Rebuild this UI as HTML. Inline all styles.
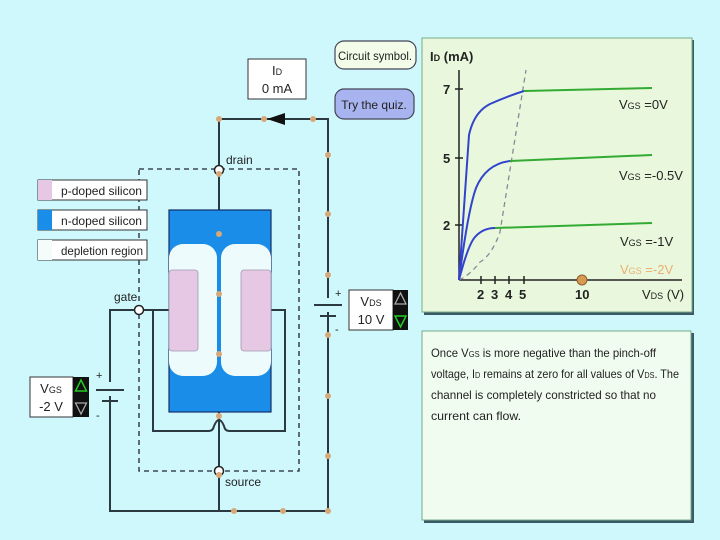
<!DOCTYPE html>
<html><head><style>
body{margin:0;background:#cff8fc;}
svg{display:block;font-family:"Liberation Sans",sans-serif;}
</style></head><body>
<svg width="720" height="540" viewBox="0 0 720 540" xmlns="http://www.w3.org/2000/svg">
<rect width="720" height="540" fill="#cff8fc"/>
<rect x="139" y="169" width="160" height="302" fill="none" stroke="#223" stroke-width="1.3" stroke-dasharray="5,4"/>
<g stroke="#2b3a40" stroke-width="2" fill="none">
<polyline points="219,165 219,119 328,119 328,511 110,511 110,310 134,310"/>
<line x1="219" y1="175" x2="219" y2="210"/>
<line x1="144" y1="310" x2="169" y2="310"/>
<path d="M153,310 L153,431 L209,431 Q213,431 214,426 Q219,414 224,426 Q225,431 229,431 L285,431 L285,310 L271,310"/>
<line x1="219" y1="412" x2="219" y2="466"/>
<line x1="219" y1="476" x2="219" y2="511"/>
</g>
<polygon points="267,119 285,113 285,125" fill="#111"/>
<rect x="318" y="298" width="22" height="14" fill="#cff8fc"/>
<line x1="314" y1="305" x2="342" y2="305" stroke="#2b3a40" stroke-width="2"/>
<line x1="320" y1="316" x2="336" y2="316" stroke="#2b3a40" stroke-width="2"/>
<text x="335" y="297" font-size="11" fill="#222">+</text>
<text x="335" y="333" font-size="11" fill="#222">-</text>
<rect x="100" y="382" width="22" height="14" fill="#cff8fc"/>
<line x1="96" y1="390" x2="124" y2="390" stroke="#2b3a40" stroke-width="2"/>
<line x1="102" y1="401" x2="118" y2="401" stroke="#2b3a40" stroke-width="2"/>
<text x="96" y="379" font-size="11" fill="#222">+</text>
<text x="96" y="419" font-size="11" fill="#222">-</text>
<rect x="169" y="210" width="102" height="202" fill="#1a8de8" stroke="#15306a" stroke-width="1.2"/>
<rect x="169" y="244" width="48" height="132" rx="14" fill="#eefbfc"/>
<rect x="221" y="244" width="50" height="132" rx="14" fill="#eefbfc"/>
<rect x="169" y="270" width="29" height="81" rx="3" fill="#e6c8e4" stroke="#a09ab0" stroke-width="0.8"/>
<rect x="241" y="270" width="30" height="81" rx="3" fill="#e6c8e4" stroke="#a09ab0" stroke-width="0.8"/>
<circle cx="219" cy="170" r="4.5" fill="#fff" stroke="#222" stroke-width="1.5"/>
<circle cx="219" cy="471" r="4.5" fill="#fff" stroke="#222" stroke-width="1.5"/>
<circle cx="139" cy="310" r="4.5" fill="#fff" stroke="#222" stroke-width="1.5"/>
<g fill="#d7a878">
<circle cx="219" cy="119" r="3"/><circle cx="264" cy="119" r="3"/><circle cx="313" cy="119" r="3"/>
<circle cx="328" cy="155" r="3"/><circle cx="328" cy="214" r="3"/><circle cx="328" cy="275" r="3"/><circle cx="328" cy="335" r="3"/><circle cx="328" cy="396" r="3"/><circle cx="328" cy="456" r="3"/><circle cx="328" cy="511" r="3"/>
<circle cx="234" cy="511" r="3"/><circle cx="283" cy="511" r="3"/>
<circle cx="219" cy="174" r="3"/><circle cx="219" cy="234" r="3"/><circle cx="219" cy="294" r="3"/><circle cx="219" cy="354" r="3"/><circle cx="219" cy="416" r="3"/><circle cx="219" cy="475" r="3"/>
</g>
<text x="226" y="164" font-size="12" fill="#222">drain</text>
<text x="225" y="486" font-size="12" fill="#222">source</text>
<text x="114" y="301" font-size="12" fill="#222">gate</text>
<g font-size="12" fill="#222">
<rect x="38" y="180" width="109" height="20" fill="#fff" stroke="#333"/><rect x="38" y="180" width="14" height="20" fill="#e6c8e4"/><text x="61" y="195" textLength="81" lengthAdjust="spacingAndGlyphs">p-doped silicon</text>
<rect x="38" y="210" width="109" height="20" fill="#fff" stroke="#333"/><rect x="38" y="210" width="14" height="20" fill="#1a8de8"/><text x="61" y="225" textLength="81" lengthAdjust="spacingAndGlyphs">n-doped silicon</text>
<rect x="38" y="240" width="109" height="20" fill="#fff" stroke="#333"/><rect x="38" y="240" width="14" height="20" fill="#f4fcfc"/><text x="61" y="255" textLength="82" lengthAdjust="spacingAndGlyphs">depletion region</text>
</g>
<rect x="248" y="59" width="58" height="40" fill="#fff" stroke="#333"/>
<text x="277" y="75" font-size="13" text-anchor="middle" fill="#222">I<tspan font-size="9">D</tspan></text>
<text x="277" y="93" font-size="13" text-anchor="middle" fill="#222">0 mA</text>
<rect x="349" y="290" width="44" height="40" fill="#fff" stroke="#333"/>
<rect x="393" y="290" width="15" height="40" fill="#111"/>
<text x="371" y="306" font-size="13" text-anchor="middle" fill="#222">V<tspan font-size="9">DS</tspan></text>
<text x="371" y="324" font-size="13" text-anchor="middle" fill="#222">10 V</text>
<polygon points="400.5,293 395,304 406,304" fill="none" stroke="#aaa" stroke-width="1.3"/>
<polygon points="400.5,327 395,316 406,316" fill="none" stroke="#2c2" stroke-width="1.5"/>
<rect x="30" y="377" width="43" height="40" fill="#fff" stroke="#333"/>
<rect x="73" y="377" width="16" height="40" fill="#111"/>
<text x="51" y="393" font-size="13" text-anchor="middle" fill="#222">V<tspan font-size="9">GS</tspan></text>
<text x="51" y="411" font-size="13" text-anchor="middle" fill="#222">-2 V</text>
<polygon points="81,380 75.5,391 86.5,391" fill="none" stroke="#2c2" stroke-width="1.5"/>
<polygon points="81,414 75.5,403 86.5,403" fill="none" stroke="#aaa" stroke-width="1.3"/>
<rect x="335" y="41" width="81" height="28" rx="9" fill="#f2fce8" stroke="#445" stroke-width="1.2"/>
<text x="375" y="60" font-size="12" text-anchor="middle" fill="#222" textLength="74" lengthAdjust="spacingAndGlyphs">Circuit symbol.</text>
<rect x="335" y="89" width="79" height="30" rx="9" fill="#a8b4f0" stroke="#445" stroke-width="1.2"/>
<text x="374" y="109" font-size="12" text-anchor="middle" fill="#222">Try the quiz.</text>
<rect x="424" y="40" width="270" height="275" fill="#3a5a66"/>
<rect x="422" y="38" width="270" height="274" fill="#e9f8dc" stroke="#7a8" stroke-width="1"/>
<text x="430" y="61" font-size="13" font-weight="bold" fill="#222">I<tspan font-size="9">D</tspan> (mA)</text>
<g stroke="#222" stroke-width="1.5">
<line x1="459" y1="70" x2="459" y2="280"/><line x1="459" y1="280" x2="682" y2="280"/>
<line x1="455" y1="89" x2="463" y2="89"/><line x1="455" y1="158" x2="463" y2="158"/><line x1="455" y1="225" x2="463" y2="225"/>
<line x1="481" y1="276" x2="481" y2="284"/><line x1="495" y1="276" x2="495" y2="284"/><line x1="509" y1="276" x2="509" y2="284"/><line x1="524" y1="276" x2="524" y2="284"/>
</g>
<g font-size="13" fill="#222" font-weight="bold">
<text x="443" y="94">7</text><text x="443" y="163">5</text><text x="443" y="230">2</text>
<text x="477" y="299">2</text><text x="491" y="299">3</text><text x="505" y="299">4</text><text x="519" y="299">5</text><text x="575" y="299">10</text>
<text x="642" y="299" font-weight="normal">V<tspan font-size="9">DS</tspan> (V)</text>
</g>
<path d="M459,280 Q470,275 480,262 Q492,255 500,232 L526,70" stroke="#889" stroke-width="1.3" fill="none" stroke-dasharray="5,4"/>
<g stroke="#3344cc" stroke-width="2" fill="none">
<path d="M459,280 L469,135 Q474,112 490,104 Q508,96 524,91"/>
<path d="M459,280 Q468,210 476,188 Q486,164 510,161"/>
<path d="M459,280 Q468,245 475,237 Q483,228 495,228"/>
</g>
<g stroke="#33aa33" stroke-width="2">
<line x1="524" y1="91" x2="652" y2="88"/><line x1="510" y1="161" x2="652" y2="155"/><line x1="495" y1="228" x2="652" y2="223"/>
</g>
<circle cx="582" cy="280" r="5" fill="#d89a50" stroke="#8a6030"/>
<g font-size="13" fill="#222">
<text x="619" y="109">V<tspan font-size="9">GS</tspan> =0V</text>
<text x="619" y="180">V<tspan font-size="9">GS</tspan> =-0.5V</text>
<text x="620" y="246">V<tspan font-size="9">GS</tspan> =-1V</text>
<text x="620" y="274" fill="#e8b070">V<tspan font-size="9">GS</tspan> =-2V</text>
</g>
<rect x="424" y="333" width="270" height="190" fill="#3a5a66"/>
<rect x="422" y="331" width="269" height="189" fill="#f0fcef" stroke="#7a8" stroke-width="1"/>
<g font-size="12" fill="#222">
<text x="431" y="357" textLength="225" lengthAdjust="spacingAndGlyphs">Once V<tspan font-size="8">GS</tspan> is more negative than the pinch-off</text>
<text x="431" y="378" textLength="248" lengthAdjust="spacingAndGlyphs">voltage, I<tspan font-size="8">D</tspan> remains at zero for all values of V<tspan font-size="8">DS</tspan>. The</text>
<text x="431" y="399" textLength="225" lengthAdjust="spacingAndGlyphs">channel is completely constricted so that no</text>
<text x="431" y="420" textLength="90" lengthAdjust="spacingAndGlyphs">current can flow.</text>
</g>
</svg>
</body></html>
